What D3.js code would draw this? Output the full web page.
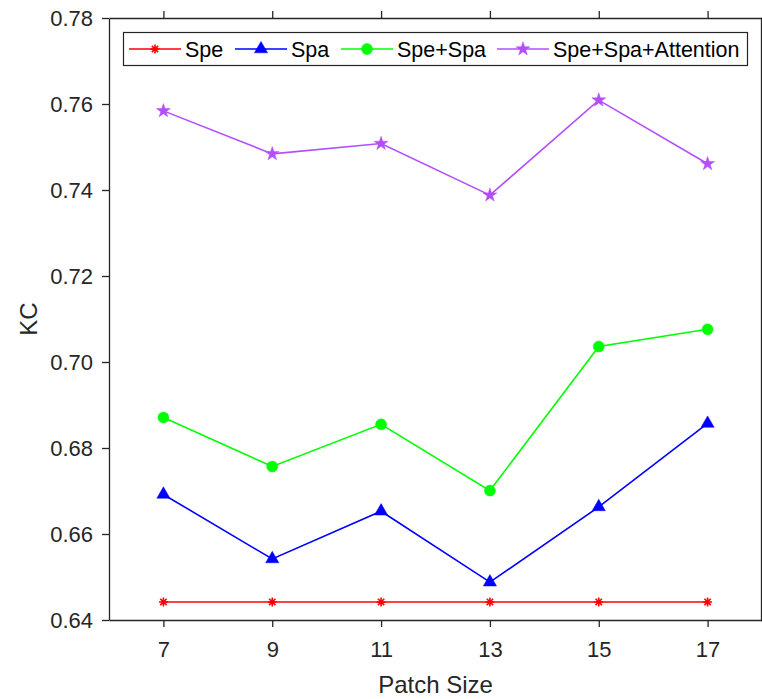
<!DOCTYPE html>
<html>
<head>
<meta charset="utf-8">
<style>
  body { margin: 0; background: #fff; }
  text { font-family: "Liberation Sans", Arial, sans-serif; }
</style>
</head>
<body>
<div id="chart"></div>
<script src="https://d3js.org/d3.v7.min.js"></script>
<script>
    const width = 762;
    const height = 699;

    // data
    const patchSizes = [7, 9, 11, 13, 15, 17];
    const spe = [0.6442, 0.6442, 0.6442, 0.6442, 0.6442, 0.6442];
    const spa = [0.6692, 0.6542, 0.6653, 0.6488, 0.6663, 0.6857];
    const speSpa = [0.6871, 0.6757, 0.6855, 0.6701, 0.7036, 0.7076];
    const speSpaAtt = [0.7584, 0.7484, 0.7508, 0.7388, 0.7609, 0.7461];
    const yTicks = [0.64, 0.66, 0.68, 0.70, 0.72, 0.74, 0.76, 0.78];
    const seriesNames = ["Spe", "Spa", "Spe+Spa", "Spe+Spa+Attention"];

    const series = [
        { name: seriesNames[0], values: spe, color: "#ff0000", marker: "asterisk" },
        { name: seriesNames[1], values: spa, color: "#0000ff", marker: "triangle" },
        { name: seriesNames[2], values: speSpa, color: "#00ff00", marker: "circle" },
        { name: seriesNames[3], values: speSpaAtt, color: "#b44dff", marker: "star" }
    ];

    const axisColor = "#262626";
    const plotLeft = 109, plotRight = 762, plotTop = 18, plotBottom = 620;

    const svg = d3.select("#chart")
        .append("svg")
        .attr("width", width)
        .attr("height", height);

    const x = d3.scaleLinear().domain([6, 18]).range([plotLeft, plotRight]);
    const y = d3.scaleLinear().domain([0.64, 0.78]).range([plotBottom, plotTop]);

    // box with outward ticks
    svg.append("g")
        .attr("transform", `translate(0,${plotBottom})`)
        .call(d3.axisBottom(x).tickValues(patchSizes).tickSizeOuter(0).tickSizeInner(7).tickPadding(14));
    svg.append("g")
        .attr("transform", `translate(${plotLeft},0)`)
        .call(d3.axisLeft(y).tickValues(yTicks).tickFormat(d3.format(".2f")).tickSizeOuter(0).tickSizeInner(7).tickPadding(9));
    svg.append("g")
        .attr("transform", `translate(0,${plotTop})`)
        .call(d3.axisTop(x).tickValues(patchSizes).tickFormat("").tickSizeOuter(0).tickSizeInner(7));
    svg.append("g")
        .attr("transform", `translate(${plotRight - 1},0)`)
        .call(d3.axisRight(y).tickValues(yTicks).tickFormat("").tickSizeOuter(0).tickSizeInner(7));

    svg.selectAll(".domain, .tick line")
        .attr("stroke", axisColor)
        .attr("stroke-width", 1.3);
    svg.selectAll(".tick text")
        .attr("fill", axisColor)
        .style("font-size", "22px")
        .style("font-family", "Liberation Sans, Arial, sans-serif");

    // axis titles
    svg.append("text")
        .attr("x", (plotLeft + plotRight) / 2)
        .attr("y", 693)
        .attr("text-anchor", "middle")
        .attr("fill", axisColor)
        .style("font-size", "24px")
        .text("Patch Size");
    svg.append("text")
        .attr("transform", `translate(37,${(plotTop + plotBottom) / 2}) rotate(-90)`)
        .attr("text-anchor", "middle")
        .attr("fill", axisColor)
        .style("font-size", "24px")
        .text("KC");

    function markerPath(type) {
        if (type === "star") return d3.symbol().type(d3.symbolStar).size(60)();
        if (type === "triangle") return d3.symbol().type(d3.symbolTriangle).size(75)();
        if (type === "circle") return d3.symbol().type(d3.symbolCircle).size(95)();
        // 8-spoke asterisk like matlab '*'
        const r = 4.5, d = r * Math.SQRT1_2;
        return `M${-r},0L${r},0M0,${-r}L0,${r}M${-d},${-d}L${d},${d}M${-d},${d}L${d},${-d}`;
    }

    function drawMarker(g, type, color, cx, cy) {
        const p = g.append("path")
            .attr("d", markerPath(type))
            .attr("transform", `translate(${cx},${cy})`);
        if (type === "asterisk") {
            p.attr("fill", "none").attr("stroke", color).attr("stroke-width", 1.6);
        } else {
            p.attr("fill", color).attr("stroke", color).attr("stroke-width", 0.5);
        }
    }

    const line = d3.line()
        .x((d, i) => x(patchSizes[i]))
        .y(d => y(d));

    series.forEach(s => {
        const g = svg.append("g");
        g.append("path")
            .datum(s.values)
            .attr("fill", "none")
            .attr("stroke", s.color)
            .attr("stroke-width", 1.6)
            .attr("d", line);
        s.values.forEach((v, i) => drawMarker(g, s.marker, s.color, x(patchSizes[i]), y(v)));
    });

    // legend
    const legend = svg.append("g");
    legend.append("rect")
        .attr("x", 123.5).attr("y", 32.5)
        .attr("width", 624).attr("height", 33)
        .attr("fill", "#fff")
        .attr("stroke", axisColor)
        .attr("stroke-width", 1.2);
    const legendX = [129, 235, 341, 497];
    const ly = 49;
    series.forEach((s, i) => {
        const x0 = legendX[i];
        legend.append("line")
            .attr("x1", x0).attr("x2", x0 + 52)
            .attr("y1", ly).attr("y2", ly)
            .attr("stroke", s.color).attr("stroke-width", 1.6);
        drawMarker(legend, s.marker, s.color, x0 + 26, ly);
        legend.append("text")
            .attr("x", x0 + 56)
            .attr("y", ly + 7.5)
            .attr("fill", "#000")
            .style("font-size", "21.5px")
            .text(s.name);
    });
</script>
</body>
</html>
